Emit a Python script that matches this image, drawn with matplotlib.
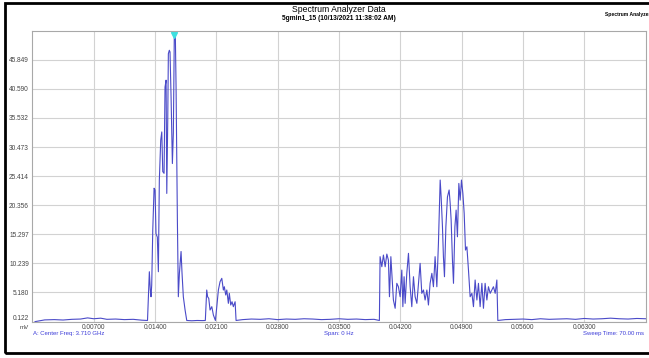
import numpy as np
import matplotlib
matplotlib.use("Agg")
import matplotlib.pyplot as plt
from matplotlib.patches import Rectangle

plt.rcParams['font.family'] = ['Liberation Sans', 'DejaVu Sans']

# trace: time in ms, level in mV
time_ms = [
    0.30, 1.40, 2.50, 3.50, 4.50, 5.50, 6.30, 7.00, 7.80, 8.50, 9.50, 10.50, 11.50, 12.50, 13.14,
    13.35, 13.46, 13.54, 13.62, 13.74, 13.89, 14.00, 14.11, 14.26, 14.38, 14.49, 14.65, 14.77,
    14.88, 15.03, 15.14, 15.26, 15.34, 15.45, 15.52, 15.63, 15.71, 15.83, 15.98, 16.09, 16.20,
    16.32, 16.40, 16.55, 16.66, 16.78, 16.97, 17.08, 17.23, 17.43, 17.62,
    18.20, 18.80, 19.40, 19.74,
    19.90, 20.00, 20.13, 20.28, 20.48, 20.66, 20.89, 21.05, 21.23, 21.42, 21.62, 21.80, 21.91,
    22.07, 22.19, 22.37, 22.48, 22.64, 22.79, 22.94, 23.14, 23.25,
    24.0, 25.0, 26.0, 27.0, 28.0, 29.0, 30.0, 31.0, 32.0, 33.0, 34.0, 35.0, 36.0, 37.0, 38.0, 39.0, 39.61,
    39.69, 39.89, 40.07, 40.27, 40.46, 40.64, 40.76, 40.92, 41.03, 41.21, 41.41, 41.60, 41.78,
    41.98, 42.17, 42.29, 42.43, 42.55, 42.74, 42.93, 43.12, 43.31, 43.50, 43.69, 43.89, 44.07,
    44.26, 44.45, 44.64, 44.83, 45.03, 45.21, 45.40, 45.60, 45.78, 45.97, 46.17, 46.35, 46.55,
    46.66, 46.81, 46.92, 47.04, 47.20, 47.38, 47.57, 47.69, 47.80, 47.95, 48.07, 48.23, 48.37,
    48.52, 48.68, 48.83, 48.98, 49.14, 49.29, 49.44, 49.60, 49.78, 49.97, 50.17, 50.35, 50.54,
    50.74, 50.92, 51.11, 51.31, 51.49, 51.68, 51.88, 52.06, 52.26, 52.45, 52.63, 52.83, 53.02, 53.13,
    54.0, 55.0, 56.0, 57.0, 58.0, 59.0, 60.0, 61.0, 62.0, 63.0, 64.0, 65.0, 66.0, 67.0, 68.0, 69.0, 70.0,
]
level_mv = [
    0.10, 0.40, 0.45, 0.38, 0.50, 0.55, 0.75, 0.60, 0.70, 0.50, 0.55, 0.45, 0.50, 0.35, 0.30,
    8.78, 5.60, 4.43, 6.47, 16.0, 23.3, 23.0, 15.4, 14.8, 8.78, 24.7, 31.7, 33.1,
    26.2, 25.9, 40.9, 42.1, 22.4, 35.1, 46.7, 47.3, 47.0, 39.2, 27.6, 32.9, 50.2,
    49.6, 40.9, 17.8, 4.43, 8.50, 12.3, 8.55, 4.43, 2.12, 0.30,
    0.25, 0.30, 0.28, 0.30,
    5.60, 4.43, 4.15, 2.12, 2.70, 1.25, 0.30, 2.70, 5.60, 7.04, 7.63, 5.60, 6.17,
    4.73, 5.60, 3.28, 5.02, 2.99, 3.56, 2.70, 3.56, 0.30,
    0.45, 0.55, 0.50, 0.60, 0.45, 0.55, 0.50, 0.60, 0.55, 0.45, 0.50, 0.60, 0.50, 0.55, 0.45, 0.50, 0.30,
    11.4, 9.65, 11.68, 9.65, 11.85, 10.8, 4.43, 11.4, 8.50, 3.86, 2.42, 6.76, 6.17,
    4.43, 9.07, 2.70, 7.91, 3.28, 8.50, 11.98, 6.17, 2.70, 7.91, 4.43, 3.28, 6.76,
    10.24, 5.02, 5.60, 3.86, 5.60, 2.99, 6.76, 8.50, 6.17, 11.4, 6.17, 13.71, 24.73,
    21.8, 16.6, 11.4, 7.91, 16.6, 21.8, 23.0, 20.7, 17.8, 10.81, 6.76, 16.6, 19.5,
    14.86, 24.14, 21.24, 24.73, 22.4, 18.93, 12.55, 13.12, 9.07, 4.43, 5.02, 2.70, 7.34,
    3.86, 6.76, 2.70, 6.76, 2.42, 6.76, 3.86, 6.17, 5.02, 5.60, 6.17, 5.02, 7.34, 0.30,
    0.45, 0.50, 0.55, 0.45, 0.60, 0.50, 0.55, 0.60, 0.50, 0.65, 0.55, 0.60, 0.70, 0.60, 0.55, 0.65, 0.60,
]

x_ticks = [0.007, 0.014, 0.021, 0.028, 0.035, 0.042, 0.049, 0.056, 0.063]
x_labels = ['0.00700', '0.01400', '0.02100', '0.02800', '0.03500',
            '0.04200', '0.04900', '0.05600', '0.06300']
y_ticks = [0.122, 5.180, 10.239, 15.297, 20.356, 25.414, 30.473, 35.532, 40.590, 45.649]
y_labels = ['0.122', '5.180', '10.239', '15.297', '20.356',
            '25.414', '30.473', '35.532', '40.590', '45.849']

W, H = 649, 358
fig = plt.figure(figsize=(W / 100, H / 100), dpi=100)
fig.patch.set_facecolor('white')

ax = fig.add_axes([32.4 / W, 1 - 321.5 / H, (645.6 - 32.4) / W, (321.5 - 30.7) / H])

t = np.array(time_ms) / 1000.0
v = np.array(level_mv)
ax.plot(t, v, color='#4a4ac8', lw=0.8)

# marker on the peak
k = int(np.argmax(v))
ax.plot(t[k], 50.0, marker='v', color='#3ee0e0', markersize=4, clip_on=False)

ax.set_xlim(0, 0.07)
ax.set_ylim(0.122, 50.707)
ax.set_xticks(x_ticks)
ax.set_xticklabels(x_labels)
ax.set_yticks(y_ticks)
ax.set_yticklabels(y_labels)
ax.tick_params(axis='both', length=0, labelsize=4.7, colors='#444444')
ax.tick_params(axis='x', pad=1.5)
ax.tick_params(axis='y', pad=2.5)
ax.get_yticklabels()[0].set_va('bottom')
ax.grid(True, color='#d2d2d2', lw=0.8)
ax.set_axisbelow(True)
for s in ax.spines.values():
    s.set_color('#a8a8a8')
    s.set_linewidth(0.8)

fig.text(339 / W, 1 - 9 / H, 'Spectrum Analyzer Data', ha='center', va='center', fontsize=6.2)
fig.text(339 / W, 1 - 19 / H, '5gmin1_15 (10/13/2021 11:38:02 AM)', ha='center', va='center',
         fontsize=4.8, fontweight='bold')
fig.text(605 / W, 1 - 14.5 / H, 'Spectrum Analyzer', ha='left', va='center', fontsize=3.6,
         fontweight='bold')
fig.text(24 / W, 1 - 327.5 / H, 'mV', ha='center', va='center', fontsize=4.4, color='#444444')

blue = '#3c3cd8'
fig.text(33 / W, 1 - 334 / H, 'A: Center Freq: 3.710 GHz', ha='left', va='center', fontsize=4.3, color=blue)
fig.text(339 / W, 1 - 334 / H, 'Span: 0 Hz', ha='center', va='center', fontsize=4.3, color=blue)
fig.text(644 / W, 1 - 334 / H, 'Sweep Time: 70.00 ms', ha='right', va='center', fontsize=4.3, color=blue)

# black frame of the screenshot, open at the right
fig.patches.append(Rectangle((5 / W, 1 - 353 / H), 1.2, 350 / H, transform=fig.transFigure,
                             fill=False, edgecolor='black', lw=2.0))

fig.savefig('out.png', dpi=100)
